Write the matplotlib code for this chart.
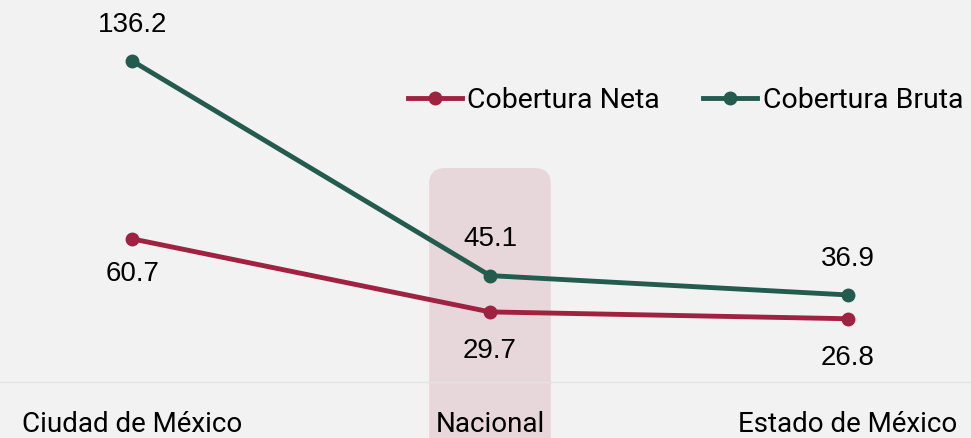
import matplotlib.pyplot as plt
import matplotlib.transforms as mtransforms
from matplotlib.patches import FancyBboxPatch

categorias = ["Ciudad de México", "Nacional", "Estado de México"]
neta = [60.7, 29.7, 26.8]
bruta = [136.2, 45.1, 36.9]

rojo = "#9f2241"
verde = "#235b4e"
fondo = "#f2f2f2"

fig = plt.figure(figsize=(9.71, 4.38), dpi=100, facecolor=fondo)
ax = fig.add_axes([0, 0.128, 1, 0.872])
ax.set_facecolor(fondo)
x = list(range(len(categorias)))

# resaltado de "Nacional"
trans = mtransforms.blended_transform_factory(ax.transData, ax.transAxes)
hl = FancyBboxPatch((0.83, -0.5), 0.34, 1.06, boxstyle="round,pad=0,rounding_size=0.045",
                    mutation_aspect=0.94, transform=trans, facecolor=rojo, alpha=0.13,
                    edgecolor="none", clip_on=False, zorder=1)
ax.add_patch(hl)

ax.plot(x, neta, color=rojo, lw=3.5, marker="o", ms=9, label="Cobertura Neta", zorder=3)
ax.plot(x, bruta, color=verde, lw=3.5, marker="o", ms=9, label="Cobertura Bruta", zorder=3)

for i in x:
    ax.annotate(f"{neta[i]:.1f}", (i, neta[i]), xytext=(0, -28 if i else -25), textcoords="offset points",
                ha="center", va="center", fontsize=20, family="Liberation Sans", color="black")
    ax.annotate(f"{bruta[i]:.1f}", (i, bruta[i]), xytext=(0, 26), textcoords="offset points",
                ha="center", va="center", fontsize=20, family="Liberation Sans", color="black")
    ax.annotate(categorias[i], (i, 0), xycoords=("data", "axes fraction"), xytext=(0, -31),
                textcoords="offset points", ha="center", va="center", fontsize=20,
                family="Roboto", color="black", annotation_clip=False)

ax.set_xlim(-0.369, 2.344)
ax.set_ylim(0, 162)
ax.set_xticks([])
ax.set_yticks([])
for s in ["top", "left", "right"]:
    ax.spines[s].set_visible(False)
ax.spines["bottom"].set_color("#e3e3e3")
ax.spines["bottom"].set_linewidth(1)

leg = ax.legend(loc="center right", bbox_to_anchor=(0.992, 0.736), ncol=2, frameon=False,
                prop={"family": "Roboto", "size": 20.5}, handlelength=1.9, handletextpad=0.2,
                columnspacing=1.5, borderaxespad=0, borderpad=0)

fig.savefig("out.png", dpi=100, facecolor=fondo)
